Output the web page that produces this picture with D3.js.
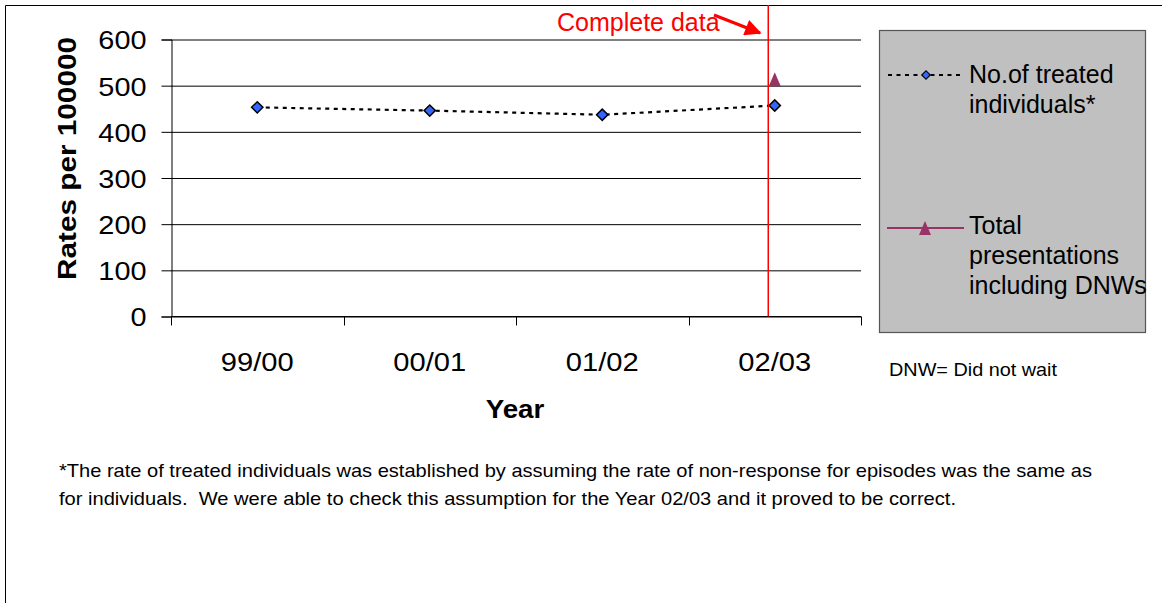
<!DOCTYPE html>
<html>
<head>
<meta charset="utf-8">
<script src="https://cdn.jsdelivr.net/npm/d3@7"></script>
<style>
  html, body { margin: 0; padding: 0; background: #fff; }
  svg { display: block; font-family: "Liberation Sans", Arial, sans-serif; }
</style>
</head>
<body>
<svg id="chart" width="1162" height="603"></svg>
<script>
// ---- data ----
const categories = ["99/00", "00/01", "01/02", "02/03"];
const treatedIndividuals = [453, 446, 437, 457];
const totalPresentations = [null, null, null, 514];
const yTickValues = [0, 100, 200, 300, 400, 500, 600];
const seriesNames = ["No.of treated individuals*", "Total presentations including DNWs"];
const legendLines = [["No.of treated", "individuals*"], ["Total", "presentations", "including DNWs"]];
const footnoteLines = [
  "*The rate of treated individuals was established by assuming the rate of non-response for episodes was the same as",
  "for individuals.  We were able to check this assumption for the Year 02/03 and it proved to be correct."
];

// ---- helpers ----
function stretch(sel, factor) {
  sel.each(function () {
    const w = this.getComputedTextLength();
    d3.select(this).attr("textLength", w * factor).attr("lengthAdjust", "spacingAndGlyphs");
  });
}

// ---- layout ----
const svg = d3.select("#chart");
const plot = { left: 171, right: 861, top: 39.5, bottom: 316.5 };

// outer frame
svg.append("path")
  .attr("d", "M5.5,603 L5.5,5.5 L1162,5.5")
  .attr("fill", "none").attr("stroke", "#000").attr("stroke-width", 1);

const x = d3.scaleBand().domain(categories).range([plot.left, plot.right]).padding(0);
const y = d3.scaleLinear().domain([0, 600]).range([plot.bottom, plot.top]);
const cx = c => x(c) + x.bandwidth() / 2;

// gridlines
const grid = svg.append("g").attr("transform", `translate(${plot.left},0)`)
  .call(d3.axisRight(y).tickValues(yTickValues).tickSize(plot.right - plot.left).tickFormat(""));
grid.select(".domain").remove();
grid.selectAll("line").attr("stroke", "#000").attr("stroke-width", 1);

// y axis
const yAxis = svg.append("g").attr("transform", `translate(${plot.left + 0.5},0)`)
  .call(d3.axisLeft(y).tickValues(yTickValues).tickSize(10).tickPadding(15));
yAxis.select(".domain").attr("stroke", "#000");
yAxis.selectAll("line").attr("stroke", "#000");
yAxis.selectAll("text").attr("font-size", 26).attr("fill", "#000")
  .attr("font-family", "Liberation Sans, Arial, sans-serif").attr("dy", "0.36em");
stretch(yAxis.selectAll("text"), 1.11);

// x axis: ticks at band boundaries
const xAxis = svg.append("g").attr("transform", `translate(0,${plot.bottom})`);
xAxis.append("line").attr("x1", plot.left).attr("x2", plot.right).attr("stroke", "#000");
const boundaries = categories.map(c => x(c)).concat([plot.right]);
xAxis.selectAll("line.tick").data(boundaries).join("line")
  .attr("class", "tick")
  .attr("x1", d => Math.round(d) + 0.5).attr("x2", d => Math.round(d) + 0.5)
  .attr("y1", 0).attr("y2", 9).attr("stroke", "#000");
const xLabels = xAxis.selectAll("text").data(categories).join("text")
  .attr("x", d => cx(d)).attr("y", 54)
  .attr("text-anchor", "middle").attr("font-size", 26).attr("fill", "#000")
  .text(d => d);
stretch(xLabels, 1.12);

// axis titles
const yearT = svg.append("text").attr("x", 515).attr("y", 418).attr("text-anchor", "middle")
  .attr("font-size", 25).attr("font-weight", "bold").text("Year");
stretch(yearT, 1.11);
const yT = svg.append("text").attr("transform", "translate(76,158.5) rotate(-90)")
  .attr("text-anchor", "middle").attr("font-size", 26).attr("font-weight", "bold")
  .text("Rates per 100000");
yT.attr("textLength", 243).attr("lengthAdjust", "spacingAndGlyphs");

// series 1: dotted line with diamonds
const pts1 = categories.map((c, i) => ({ c, v: treatedIndividuals[i] })).filter(d => d.v != null);
svg.append("path").datum(pts1)
  .attr("d", d3.line().x(d => cx(d.c)).y(d => y(d.v)))
  .attr("fill", "none").attr("stroke", "#000").attr("stroke-width", 2.2)
  .attr("stroke-dasharray", "4,4.5");
svg.selectAll("path.dia").data(pts1).join("path").attr("class", "dia")
  .attr("d", d3.symbol().type(d3.symbolSquare).size(64)())
  .attr("transform", d => `translate(${cx(d.c)},${y(d.v)}) rotate(45)`)
  .attr("fill", "#3366ff").attr("stroke", "#000").attr("stroke-width", 1.5);

// series 2: triangles
const pts2 = categories.map((c, i) => ({ c, v: totalPresentations[i] })).filter(d => d.v != null);
svg.selectAll("path.tri").data(pts2).join("path").attr("class", "tri")
  .attr("transform", d => `translate(${cx(d.c)},${y(d.v)})`)
  .attr("d", "M0,-7 L6,7 L-6,7 Z")
  .attr("fill", "#993366");

// red annotation line
const redX = cx("02/03") - 6.5;
svg.append("line").attr("x1", redX).attr("x2", redX).attr("y1", 5).attr("y2", plot.bottom)
  .attr("stroke", "#ff0000").attr("stroke-width", 1.5);
svg.append("text").attr("x", 557).attr("y", 31).attr("font-size", 25).attr("fill", "#ff0000")
  .text("Complete data");
// arrow
svg.append("defs").append("marker").attr("id", "ah")
  .attr("viewBox", "0 0 10 10").attr("refX", 9).attr("refY", 5)
  .attr("markerWidth", 7).attr("markerHeight", 5.5).attr("orient", "auto")
  .attr("markerUnits", "strokeWidth")
  .append("path").attr("d", "M0,0 L10,5 L0,10 Z").attr("fill", "#ff0000");
svg.append("line").attr("x1", 714).attr("y1", 15).attr("x2", 760).attr("y2", 33)
  .attr("stroke", "#ff0000").attr("stroke-width", 3).attr("marker-end", "url(#ah)");

// legend
const lg = svg.append("g");
lg.append("rect").attr("x", 879.5).attr("y", 30.5).attr("width", 266).attr("height", 302)
  .attr("fill", "#c0c0c0").attr("stroke", "#555").attr("stroke-width", 1.2);
// entry 1
lg.append("line").attr("x1", 888).attr("x2", 960).attr("y1", 75).attr("y2", 75)
  .attr("stroke", "#000").attr("stroke-width", 2).attr("stroke-dasharray", "4,4.5");
lg.append("path").attr("transform", "translate(926,75) rotate(45)")
  .attr("d", d3.symbol().type(d3.symbolSquare).size(36)())
  .attr("fill", "#3366ff").attr("stroke", "#000").attr("stroke-width", 1.2);
lg.append("text").attr("font-size", 25).attr("fill", "#000")
  .selectAll("tspan").data(legendLines[0]).join("tspan")
  .attr("x", 969).attr("y", (d, i) => 83 + i * 30).text(d => d);
// entry 2
lg.append("line").attr("x1", 887).attr("x2", 964).attr("y1", 228).attr("y2", 228)
  .attr("stroke", "#993366").attr("stroke-width", 2);
lg.append("path").attr("transform", "translate(925,228)")
  .attr("d", "M0,-7 L6,7 L-6,7 Z").attr("fill", "#993366");
lg.append("text").attr("font-size", 25).attr("fill", "#000")
  .selectAll("tspan").data(legendLines[1]).join("tspan")
  .attr("x", 969).attr("y", (d, i) => 234 + i * 30).text(d => d);

// DNW note
const dnw = svg.append("text").attr("x", 889).attr("y", 376).attr("font-size", 18.5).text("DNW= Did not wait");
dnw.attr("textLength", 168).attr("lengthAdjust", "spacingAndGlyphs");

// footnote
const footLengths = [1033, 897];
svg.append("g").selectAll("text").data(footnoteLines).join("text")
  .attr("x", 59).attr("y", (d, i) => 477 + i * 27.5).attr("font-size", 18.5).attr("fill", "#000")
  .attr("xml:space", "preserve").style("white-space", "pre")
  .attr("textLength", (d, i) => footLengths[i]).attr("lengthAdjust", "spacingAndGlyphs")
  .text(d => d);
</script>
</body>
</html>
